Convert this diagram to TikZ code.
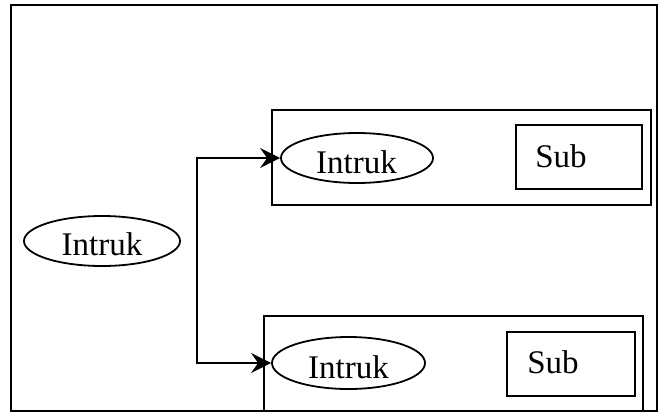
\documentclass[tikz,border=0pt]{standalone}
\usepackage{fontspec}
\setmainfont{Liberation Serif}
\usetikzlibrary{shapes.geometric,arrows.meta}

\tikzset{
  frame/.style={draw, line width=2.5pt, rectangle, inner sep=0pt},
  group/.style={draw, line width=2pt, rectangle, inner sep=0pt},
  subbox/.style={draw, line width=2pt, rectangle, inner sep=0pt},
  oval/.style={draw, line width=1.8pt, ellipse, inner sep=0pt},
  word/.style={inner sep=0pt, anchor=base, font=\fontsize{33}{39}\selectfont},
  tip/.style={Stealth[length=20pt,width=20pt,inset=7pt]},
  link/.style={line width=2pt, {Stealth[length=20pt,width=20pt,inset=7pt]}-{Stealth[length=20pt,width=20pt,inset=7pt]}}
}

\begin{document}
\begin{tikzpicture}[x=1pt,y=-1pt]
  \useasboundingbox (0,0) rectangle (661,413);

  % outer frame
  \node[frame, minimum width=646pt, minimum height=406pt] (outer) at (334,208) {};

  % upper group
  \node[group, minimum width=379pt, minimum height=95pt] (grpA) at (461.5,157.5) {};
  \node[subbox, minimum width=126pt, minimum height=64pt] (subA) at (579,157) {};
  \node[word] (subAt) at (561,167) {Sub};
  \node[oval, minimum width=152pt, minimum height=50pt] (ovA) at (357,158) {};
  \node[word] (ovAt) at (356.5,173) {Intruk};

  % lower group
  \node[group, minimum width=379pt, minimum height=95pt] (grpB) at (453.5,363.5) {};
  \node[subbox, minimum width=128pt, minimum height=64pt] (subB) at (571,364) {};
  \node[word] (subBt) at (553,373) {Sub};
  \node[oval, minimum width=153pt, minimum height=52pt] (ovB) at (348.5,363) {};
  \node[word] (ovBt) at (348.5,378) {Intruk};

  % left item
  \node[oval, minimum width=156pt, minimum height=50pt] (ovL) at (102,241) {};
  \node[word] (ovLt) at (102,255) {Intruk};

  % branching connector
  \coordinate (jA) at (197,158);
  \coordinate (jB) at (197,363);
  \draw[link] (ovA.west) -- (jA) -- (jB) -- (ovB.west);
\end{tikzpicture}
\end{document}
